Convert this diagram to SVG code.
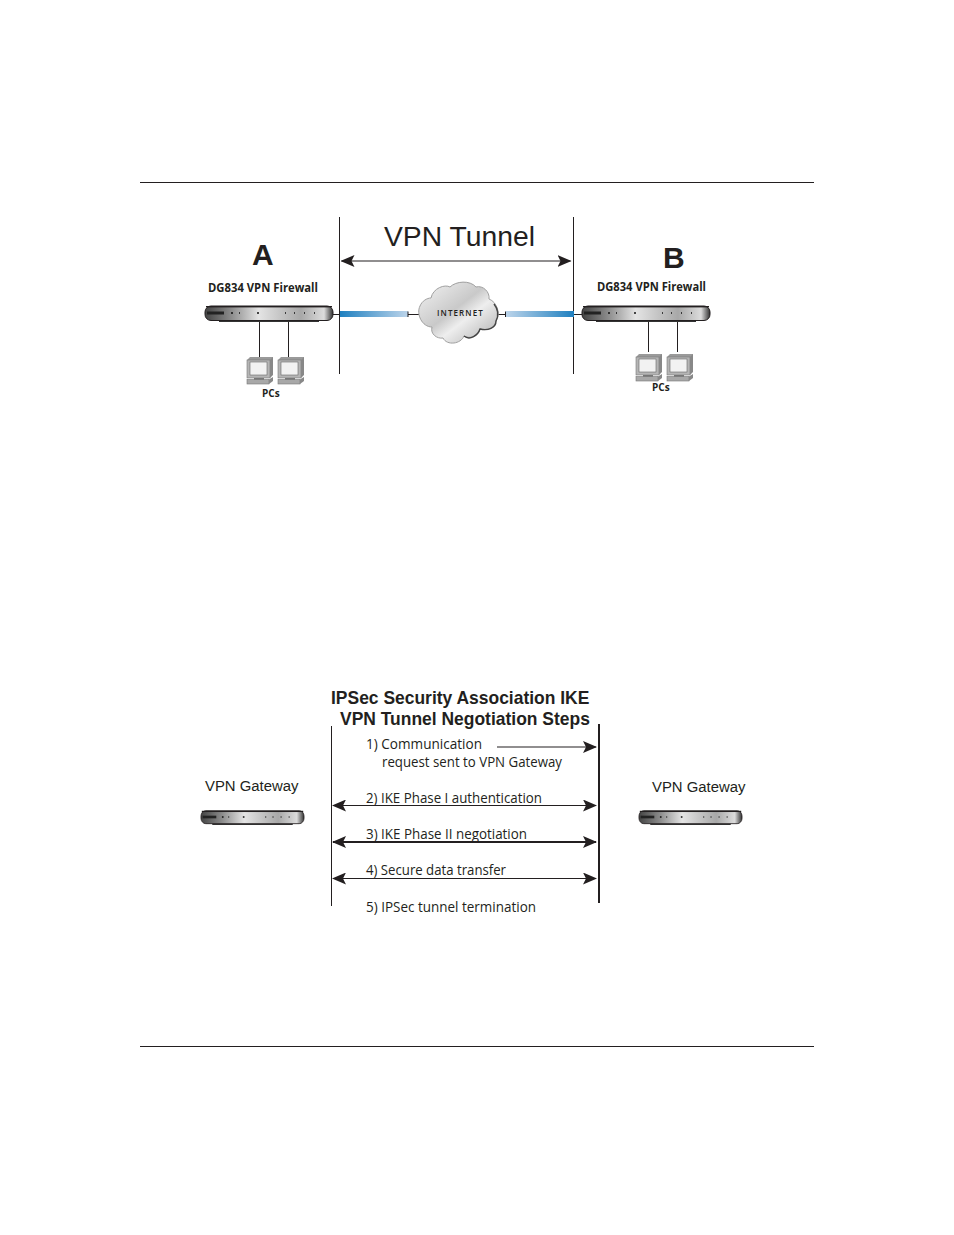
<svg xmlns="http://www.w3.org/2000/svg" xmlns:xlink="http://www.w3.org/1999/xlink" width="954" height="1235" viewBox="0 0 954 1235">
<style>
.ln{stroke:#231f20;stroke-width:1;fill:none}
.ar{fill:none;stroke:#231f20;stroke-width:1.2}
.h{font-family:"Liberation Sans",Arial,sans-serif;fill:#231f20}
.m{font-family:"Open Sans","Noto Sans",sans-serif;fill:#231f20}
.s{font-size:14px}
.l{font-size:11.6px;font-weight:700}
.b{font-weight:700}
</style>
<defs>
<marker id="ah" viewBox="0 0 14 12" refX="13" refY="6" markerUnits="userSpaceOnUse" markerWidth="14" markerHeight="12" orient="auto-start-reverse"><path d="M0 0L14 6L0 12L3 6Z" fill="#231f20"/></marker>
<linearGradient id="rg" x1="0" x2="1" y1="0" y2="0"><stop offset="0" stop-color="#444"/><stop offset=".2" stop-color="#8a8a8a"/><stop offset=".42" stop-color="#e4e4e4"/><stop offset=".75" stop-color="#a8a8a8"/><stop offset=".93" stop-color="#dcdcdc"/><stop offset="1" stop-color="#333"/></linearGradient>
<linearGradient id="cg" x1="0" x2="1" y1="0" y2="1"><stop offset="0" stop-color="#f4f4f4"/><stop offset=".45" stop-color="#c9c9c9"/><stop offset=".6" stop-color="#eee"/><stop offset="1" stop-color="#aaa"/></linearGradient>
<linearGradient id="tl" x1="0" x2="1" y1="0" y2="0"><stop offset="0" stop-color="#1f80c0"/><stop offset="1" stop-color="#bcd4ea"/></linearGradient>
<linearGradient id="tr" x1="1" x2="0" y1="0" y2="0"><stop offset="0" stop-color="#1f80c0"/><stop offset="1" stop-color="#bcd4ea"/></linearGradient>
<symbol id="router" viewBox="0 0 128 18" preserveAspectRatio="none" overflow="visible">
<rect x="14" y="15" width="100" height="3" fill="#333"/>
<rect x="0" y="2" width="128" height="14.500" rx="6" fill="url(#rg)" stroke="#231f20" stroke-width="1"/>
<rect x="1" y="2" width="126" height="1.400" fill="#231f20"/>
<rect x="2" y="7.500" width="17" height="3" fill="#222"/>
<path d="M26 9h2M34 9h1M52 9h2M80 9h1M89 9h1M99 9h1M109 9h1" stroke="#111" stroke-width="1.500" fill="none"/>
</symbol>
<symbol id="pc" viewBox="0 0 27 27" overflow="visible">
<path d="M5 5L1 3V20H5Z M1 3L4 0H27V3" fill="#9a9a9a"/>
<rect x="1" y="3" width="23" height="18" fill="#b5b5b5" stroke="#777" stroke-width=".6"/>
<rect x="4" y="5" width="17" height="13" fill="#f2f2f2" stroke="#666" stroke-width=".6"/>
<path d="M24 3L27 0V18L24 21Z" fill="#888"/>
<rect x="8" y="21" width="10" height="2" fill="#777"/>
<rect x="1" y="22.500" width="22" height="4.500" fill="#a8a8a8" stroke="#777" stroke-width=".6"/>
<path d="M23 22.500L27 20V24L23 27Z" fill="#888"/>
</symbol>
<symbol id="cloud" viewBox="0 0 81 63" overflow="visible">
<path d="M13 17C15 7 27 3 32 6C38 0 52 -1 58 6C65 4 72 11 71 18C79 21 83 33 78 40C77 47 68 50 62 48C61 56 51 58 46 55C43 63 29 65 25 57C19 58 12 53 14 46C4 46 -2 33 2 25C4 20 9 17 13 17Z" fill="url(#cg)" stroke="#a0a0a0" stroke-width="1"/>
<path d="M46 55C52 60 60 54 62 48C70 50 78 47 78 40C81 34 80 28 76 23" fill="none" stroke="#444" stroke-width="1.400"/>
</symbol>
</defs>
<rect width="954" height="1235" fill="#fff"/>
<g id="connectors">
<path class="ln" d="M140 182.500H814M140 1046.500H814"/>
<path class="ln" d="M339.500 217V374M573.500 217V374"/>
<path class="ar" d="M341.500 261H570.500" marker-start="url(#ah)" marker-end="url(#ah)"/>
<path class="ln" d="M333 314.500H340M408 314.500H419M498 314.500H506M574 314.500H582"/>
<rect x="340" y="311" width="68" height="6" fill="url(#tl)"/>
<rect x="506" y="311" width="68" height="6" fill="url(#tr)"/>
<path class="ln" d="M408 311.500V317M505.500 311.500V317"/>
<path class="ln" d="M259.500 322V358M288.500 322V358M648.500 322V352M677.500 322V352"/>
<path class="ln" d="M331.500 726V906"/>
<path d="M599 724V903" stroke="#231f20" stroke-width="2" fill="none"/>
<path class="ar" d="M497 747H596" marker-end="url(#ah)"/>
<path class="ar" d="M333 805.500H596" marker-start="url(#ah)" marker-end="url(#ah)"/>
<path class="ar" style="stroke-width:2" d="M333 842H596" marker-start="url(#ah)" marker-end="url(#ah)"/>
<path class="ar" d="M333 878.500H596" marker-start="url(#ah)" marker-end="url(#ah)"/>
</g>
<g id="title-tunnel"><text class="h" x="384" y="246" font-size="28.300">VPN Tunnel</text></g>
<g id="node-a">
<text class="h b" x="252" y="265" font-size="30">A</text>
<text class="m l" x="208" y="292" textLength="110" lengthAdjust="spacingAndGlyphs">DG834 VPN Firewall</text>
<use xlink:href="#router" href="#router" x="205" y="304" width="128" height="18"/>
</g>
<g id="node-b">
<text class="h b" x="663" y="268" font-size="30">B</text>
<text class="m l" x="597" y="291" textLength="109" lengthAdjust="spacingAndGlyphs">DG834 VPN Firewall</text>
<use xlink:href="#router" href="#router" x="582" y="304" width="128" height="18"/>
</g>
<g id="pcs-a">
<use xlink:href="#pc" href="#pc" x="246" y="357" width="27" height="27"/>
<use xlink:href="#pc" href="#pc" x="277" y="357" width="27" height="27"/>
<text class="m" x="262" y="397" font-size="10" font-weight="700">PCs</text>
</g>
<g id="pcs-b">
<use xlink:href="#pc" href="#pc" x="635" y="354" width="27" height="27"/>
<use xlink:href="#pc" href="#pc" x="666" y="354" width="27" height="27"/>
<text class="m" x="652" y="391" font-size="10" font-weight="700">PCs</text>
</g>
<g id="internet">
<use xlink:href="#cloud" href="#cloud" x="418" y="281" width="81" height="63"/>
<text class="m" x="437" y="316" font-size="8" letter-spacing="1.100" font-weight="600">INTERNET</text>
</g>
<g id="heading">
<text class="h b" x="331" y="704" font-size="17.470">IPSec Security Association IKE</text>
<text class="h b" x="340" y="725" font-size="17.470">VPN Tunnel Negotiation Steps</text>
</g>
<g id="gateway-left">
<text class="h" x="205" y="791" font-size="14.900">VPN Gateway</text>
<use xlink:href="#router" href="#router" x="201" y="809" width="103" height="16"/>
</g>
<g id="gateway-right">
<text class="h" x="652" y="792" font-size="14.900">VPN Gateway</text>
<use xlink:href="#router" href="#router" x="639" y="809" width="103" height="16"/>
</g>
<g id="steps">
<text class="m s" x="366" y="749" textLength="116" lengthAdjust="spacingAndGlyphs">1) Communication</text>
<text class="m s" x="382" y="767" textLength="180" lengthAdjust="spacingAndGlyphs">request sent to VPN Gateway</text>
<text class="m s" x="366" y="803" textLength="176" lengthAdjust="spacingAndGlyphs">2) IKE Phase I authentication</text>
<text class="m s" x="366" y="839" textLength="161" lengthAdjust="spacingAndGlyphs">3) IKE Phase II negotiation</text>
<text class="m s" x="366" y="875" textLength="140" lengthAdjust="spacingAndGlyphs">4) Secure data transfer</text>
<text class="m s" x="366" y="912" textLength="170" lengthAdjust="spacingAndGlyphs">5) IPSec tunnel termination</text>
</g>
</svg>
